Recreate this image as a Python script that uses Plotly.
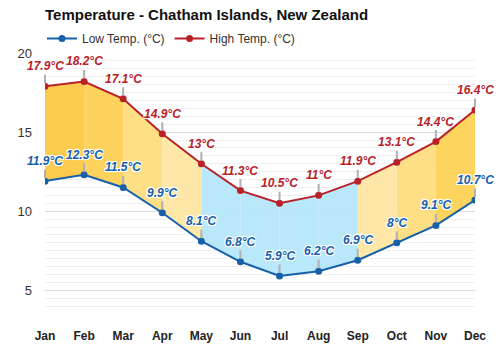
import plotly.graph_objects as go

months = ["Jan", "Feb", "Mar", "Apr", "May", "Jun", "Jul", "Aug", "Sep", "Oct", "Nov", "Dec"]
low_temp = [11.9, 12.3, 11.5, 9.9, 8.1, 6.8, 5.9, 6.2, 6.9, 8.0, 9.1, 10.7]
high_temp = [17.9, 18.2, 17.1, 14.9, 13.0, 11.3, 10.5, 11.0, 11.9, 13.1, 14.4, 16.4]
y_ticks = [5, 10, 15, 20]

seg_colors = ["#fdc73e", "#fdcf4f", "#fedc7c", "#fee5a0", "#b3e6fb", "#b3e6fb",
              "#b3e6fb", "#b3e6fb", "#fee5a0", "#fedc7c", "#fdd050"]

LOW_C = "#1660aa"
HIGH_C = "#b8212a"
FONT = "Liberation Sans, Arial, sans-serif"

fig = go.Figure()

for i in range(len(months) - 1):
    fig.add_trace(go.Scatter(
        x=[months[i], months[i + 1], months[i + 1], months[i], months[i]],
        y=[high_temp[i], high_temp[i + 1], low_temp[i + 1], low_temp[i], high_temp[i]],
        fill="toself", fillcolor=seg_colors[i], mode="none",
        line=dict(width=0), showlegend=False, hoverinfo="skip", opacity=0.92))

fig.add_trace(go.Scatter(x=months, y=low_temp, name="Low Temp. (°C)", mode="lines+markers",
                         line=dict(color=LOW_C, width=2), marker=dict(color=LOW_C, size=7)))
fig.add_trace(go.Scatter(x=months, y=high_temp, name="High Temp. (°C)", mode="lines+markers",
                         line=dict(color=HIGH_C, width=2), marker=dict(color=HIGH_C, size=7)))

def fmt(v):
    return (f"{v:g}") + "°C"

halo = "-1px -1px 0 #fff, 1px -1px 0 #fff, -1px 1px 0 #fff, 1px 1px 0 #fff, 0 1px 1px #fff, 0 -1px 1px #fff"
annotations = []
for series, col in ((low_temp, LOW_C), (high_temp, HIGH_C)):
    for m, v in zip(months, series):
        annotations.append(dict(
            x=m, y=v, text=fmt(v), showarrow=True, arrowhead=0, arrowwidth=2,
            arrowcolor="#b0b0b0", ax=0, ay=-20, standoff=3, borderpad=1,
            font=dict(family=FONT, size=12, color=col, weight="bold", style="italic", shadow=halo)))

fig.update_layout(
    width=500, height=350,
    margin=dict(l=45, r=25, t=53, b=36, autoexpand=False),
    paper_bgcolor="white", plot_bgcolor="white",
    title=dict(text="<b>Temperature - Chatham Islands, New Zealand</b>",
               font=dict(family=FONT, size=15, color="#111"),
               x=0, xref="paper", xanchor="left", y=1, yref="container", yanchor="top", pad=dict(t=9)),
    legend=dict(orientation="h", x=-0.007, xanchor="left", y=1.0, yanchor="bottom",
                font=dict(family=FONT, size=12, color="#333"), itemwidth=30,
                bgcolor="rgba(0,0,0,0)", tracegroupgap=0),
    annotations=annotations,
    showlegend=True,
    hovermode=False,
)

fig.update_xaxes(type="category", range=[0, 11], showgrid=False, zeroline=False, showline=False,
                 ticks="outside", ticklen=0, ticklabelstandoff=11, automargin=False,
                 tickfont=dict(family=FONT, size=12, color="#222", weight="bold"))
fig.update_yaxes(range=[3.5, 20], tickvals=y_ticks, showgrid=True, gridcolor="#dcdcdc", gridwidth=1,
                 zeroline=False, showline=False, ticklabelstandoff=12, automargin=False,
                 tickfont=dict(family=FONT, size=13, color="#333"),
                 minor=dict(dtick=0.5, tick0=0, showgrid=True, gridcolor="#efefef", gridwidth=1))

fig.write_html("out.html")
